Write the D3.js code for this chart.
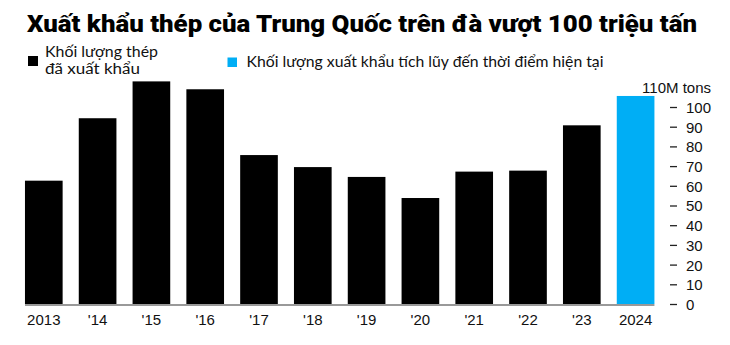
<!DOCTYPE html>
<html>
<head>
<meta charset="utf-8">
<script src="https://cdn.jsdelivr.net/npm/d3@7"></script>
<style>
  body { margin: 0; background: #fff; }
  svg { display: block; }
</style>
</head>
<body>
<svg id="chart" width="730" height="345"></svg>
<script>
const years = ['2013', "'14", "'15", "'16", "'17", "'18", "'19", "'20", "'21", "'22", "'23", '2024']
const exports = [62.6, 94.3, 113.0, 109.0, 75.6, 69.5, 64.5, 53.8, 67.2, 67.7, 90.7, 105.6]
const ticks = [0, 10, 20, 30, 40, 50, 60, 70, 80, 90, 100]
const title = 'Xuất khẩu thép của Trung Quốc trên đà vượt 100 triệu tấn'
const legendBlack = ['Khối lượng thép', 'đã xuất khẩu']
const legendBlue = 'Khối lượng xuất khẩu tích lũy đến thời điểm hiện tại'

const svg = d3.select('#chart')
const geo = "'Lato', 'Noto Sans', sans-serif"
const helv = "'Liberation Sans', Arial, sans-serif"

// x band scale: bars 25..654
const x = d3.scaleBand().domain(years).range([16.9, 662.5]).paddingInner(0.3).paddingOuter(0.15)
const y = d3.scaleLinear().domain([0, 110]).range([304, 87.3])

// fit text to a measured width
const fit = (sel, w) => {
  const len = sel.node().getComputedTextLength()
  if (len > 0) sel.attr('textLength', w).attr('lengthAdjust', 'spacingAndGlyphs')
}

// title
const t = svg.append('text')
  .attr('x', 27).attr('y', 32)
  .attr('font-family', "'Roboto', 'Noto Sans', sans-serif")
  .attr('font-weight', 900)
  .attr('font-size', 24)
  .attr('fill', '#000')
  .text(title)
fit(t, 670)

// legend
svg.append('rect').attr('x', 28).attr('y', 56).attr('width', 10).attr('height', 10).attr('fill', '#000')
const lw = [113, 95]
legendBlack.forEach((s, i) => {
  const lt = svg.append('text')
    .attr('x', 45).attr('y', 57 + i * 17)
    .attr('font-family', geo).attr('font-size', 14.5).attr('fill', '#111')
    .text(s)
  fit(lt, lw[i])
})
svg.append('rect').attr('x', 227.5).attr('y', 57.5).attr('width', 9.5).attr('height', 9.5).attr('fill', '#00aef5')
const lb = svg.append('text')
  .attr('x', 246.5).attr('y', 66.5)
  .attr('font-family', geo).attr('font-size', 15).attr('fill', '#111')
  .text(legendBlue)
fit(lb, 357)

// bars
svg.selectAll('.bar')
  .data(exports)
  .enter()
  .append('rect')
  .attr('class', 'bar')
  .attr('x', (d, i) => x(years[i]))
  .attr('width', x.bandwidth())
  .attr('y', (d) => y(d))
  .attr('height', (d) => y(0) - y(d))
  .attr('fill', (d, i) => (i === years.length - 1 ? '#00aef5' : '#000'))

// baseline
svg.append('line')
  .attr('x1', x(years[0])).attr('x2', x(years[years.length - 1]) + x.bandwidth())
  .attr('y1', y(0) + 1).attr('y2', y(0) + 1)
  .attr('stroke', '#777').attr('stroke-width', 1.5)

// x labels
svg.selectAll('.xl')
  .data(years)
  .enter()
  .append('text')
  .attr('class', 'xl')
  .attr('x', (d) => x(d) + x.bandwidth() / 2)
  .attr('y', 325)
  .attr('text-anchor', 'middle')
  .attr('font-family', helv).attr('font-size', 15).attr('fill', '#111')
  .text((d) => d)

// right axis
const yAxis = d3.axisRight(y).tickValues(ticks).tickSize(0).tickPadding(0)
const ax = svg.append('g').attr('transform', 'translate(670,0)').call(yAxis)
ax.select('.domain').remove()
ax.selectAll('.tick line').remove()
ax.selectAll('.tick').append('line')
  .attr('x1', 0).attr('x2', 7).attr('stroke', '#222').attr('stroke-width', 1.3)
ax.selectAll('.tick text')
  .attr('x', 16).attr('dy', '0.36em')
  .attr('font-family', helv).attr('font-size', 15).attr('fill', '#111')

svg.append('text')
  .attr('x', 711).attr('y', y(110)).attr('dy', '0.36em')
  .attr('text-anchor', 'end')
  .attr('font-family', helv).attr('font-size', 15).attr('fill', '#111')
  .text('110M tons')
</script>
</body>
</html>
